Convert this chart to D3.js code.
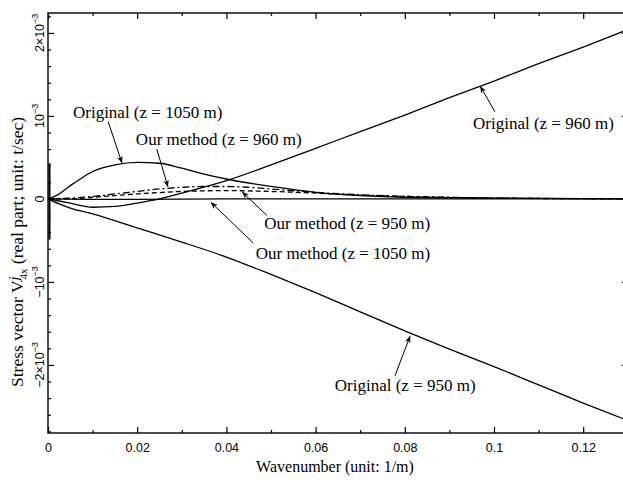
<!DOCTYPE html>
<html>
<head>
<meta charset="utf-8">
<script src="https://cdn.jsdelivr.net/npm/d3@7/dist/d3.min.js"></script>
<style>
  html, body { margin: 0; padding: 0; background: #fff; }
  svg { display: block; }
</style>
</head>
<body>
<svg id="chart" width="623" height="480"></svg>
<script>
// ---- Data (x: wavenumber in 1/m, y: stress in units of 1e-3 t/sec) ----
const xOrig960 = [0, 0.005, 0.01, 0.015, 0.02, 0.025, 0.03, 0.04, 0.05, 0.06, 0.07, 0.08, 0.09, 0.1, 0.11, 0.12, 0.13];
const yOrig960 = [0, -0.05, -0.1, -0.09, -0.05, 0.0, 0.07, 0.22, 0.41, 0.61, 0.81, 1.01, 1.22, 1.42, 1.63, 1.83, 2.04];

const xOrig950 = [0, 0.0025, 0.005, 0.01, 0.02, 0.03, 0.04, 0.05, 0.06, 0.07, 0.08, 0.09, 0.1, 0.11, 0.12, 0.13];
const yOrig950 = [0, -0.06, -0.11, -0.18, -0.35, -0.52, -0.70, -0.91, -1.13, -1.36, -1.59, -1.81, -2.02, -2.24, -2.46, -2.67];

const xOrig1050 = [0, 0.0025, 0.005, 0.0075, 0.01, 0.015, 0.02, 0.025, 0.03, 0.035, 0.04, 0.05, 0.06, 0.07, 0.08, 0.1, 0.13];
const yOrig1050 = [0, 0.06, 0.16, 0.25, 0.33, 0.41, 0.44, 0.43, 0.37, 0.30, 0.24, 0.15, 0.08, 0.04, 0.02, 0.01, 0.0];

const xOur960 = [0, 0.005, 0.01, 0.015, 0.02, 0.025, 0.03, 0.035, 0.04, 0.045, 0.05, 0.06, 0.07, 0.08, 0.09, 0.1, 0.11, 0.13];
const yOur960 = [0, 0.01, 0.03, 0.06, 0.09, 0.12, 0.14, 0.15, 0.15, 0.14, 0.12, 0.08, 0.05, 0.03, 0.02, 0.01, 0.005, 0.003];

const xOur950 = [0, 0.005, 0.01, 0.02, 0.03, 0.04, 0.05, 0.06, 0.07, 0.08, 0.09, 0.1, 0.13];
const yOur950 = [0, 0.0, 0.02, 0.06, 0.09, 0.10, 0.09, 0.07, 0.045, 0.03, 0.015, 0.01, 0.0];

const xOur1050 = [0, 0.01, 0.02, 0.04, 0.06, 0.08, 0.1, 0.13];
const yOur1050 = [0, -0.005, -0.005, 0.0, 0.0, 0.0, 0.0, 0.0];

// spike of the curves at k = 0
const xSpike = [0, 0];
const ySpike = [0.43, -0.49];

// ticks
const xMajorTicks = [0, 0.02, 0.04, 0.06, 0.08, 0.1, 0.12];
const xTickLabels = ["0", "0.02", "0.04", "0.06", "0.08", "0.1", "0.12"];
const xMinorTicks = [0.01, 0.03, 0.05, 0.07, 0.09, 0.11, 0.13];
const yMajorTicks = [-2, -1, 0, 1, 2];
const yTickLabels = [["\u22122\u00d710", "\u22123"], ["\u221210", "\u22123"], ["0", ""], ["10", "\u22123"], ["2\u00d710", "\u22123"]];
const yMinorTicks = [-2.8, -2.6, -2.4, -2.2, -1.8, -1.6, -1.4, -1.2, -0.8, -0.6, -0.4, -0.2, 0.2, 0.4, 0.6, 0.8, 1.2, 1.4, 1.6, 1.8, 2.2];

// annotations: [text, textX, textY, tailX, tailY, tipX, tipY] in data units
const annotations = [
  ["Original (z = 1050 m)", 0.0056, 0.976, 0.0135, 0.93, 0.0166, 0.43],
  ["Our method (z = 960 m)", 0.0197, 0.65, 0.0244, 0.60, 0.0269, 0.145],
  ["Original (z = 960 m)", 0.0953, 0.84, 0.1002, 1.05, 0.0969, 1.36],
  ["Our method (z = 950 m)", 0.0485, -0.36, 0.0491, -0.20, 0.0435, 0.085],
  ["Our method (z = 1050 m)", 0.0466, -0.72, 0.046, -0.53, 0.0365, -0.04],
  ["Original (z = 950 m)", 0.0643, -2.31, 0.0778, -2.13, 0.0812, -1.65]
];

(function () {
// ---- Layout ----
const svg = d3.select("#chart");
const mLeft = 48, mTop = 13, mBottom = 433, mRight = 627.8;
const x = d3.scaleLinear().domain([0, 0.13]).range([mLeft, mRight]);
const y = d3.scaleLinear().domain([-2.82, 2.24]).range([mBottom, mTop]);

const serif = "'Liberation Serif', 'Times New Roman', serif";
const sans = "'Liberation Sans', Arial, sans-serif";

// defs: arrow marker
const defs = svg.append("defs");
defs.append("marker")
  .attr("id", "arr").attr("viewBox", "0 0 10 10")
  .attr("refX", 10).attr("refY", 5)
  .attr("markerWidth", 7).attr("markerHeight", 7)
  .attr("markerUnits", "userSpaceOnUse")
  .attr("orient", "auto")
  .append("path").attr("d", "M0,1 L10,5 L0,9 L3,5 Z").attr("fill", "#000");
defs.append("clipPath").attr("id", "clip").append("rect")
  .attr("x", mLeft).attr("y", mTop).attr("width", mRight - mLeft).attr("height", mBottom - mTop);

// curves
const line = d3.line().x(d => x(d[0])).y(d => y(d[1])).curve(d3.curveMonotoneX);
const series = [
  {xs: xOrig960, ys: yOrig960, dash: null},
  {xs: xOrig950, ys: yOrig950, dash: null},
  {xs: xOrig1050, ys: yOrig1050, dash: null},
  {xs: xOur960, ys: yOur960, dash: "7,3,2,3"},
  {xs: xOur950, ys: yOur950, dash: "5,3"},
  {xs: xOur1050, ys: yOur1050, dash: null}
];
const cg = svg.append("g").attr("clip-path", "url(#clip)");
series.forEach(s => {
  cg.append("path")
    .datum(s.xs.map((v, i) => [v, s.ys[i]]))
    .attr("d", line)
    .attr("fill", "none").attr("stroke", "#000")
    .attr("stroke-width", 1.3)
    .attr("stroke-dasharray", s.dash);
});
cg.append("path")
  .datum(xSpike.map((v, i) => [v, ySpike[i]]))
  .attr("d", d3.line().x(d => x(d[0]) + 1.5).y(d => y(d[1])))
  .attr("fill", "none").attr("stroke", "#000").attr("stroke-width", 2);

// frame
svg.append("rect").attr("x", mLeft).attr("y", mTop)
  .attr("width", mRight - mLeft).attr("height", mBottom - mTop)
  .attr("fill", "none").attr("stroke", "#000").attr("stroke-width", 1.4);

// axes
function styleAxis(g) {
  g.select(".domain").remove();
  g.selectAll(".tick line").attr("stroke", "#000").attr("stroke-width", 1.2);
}
svg.append("g").attr("transform", `translate(0,${mBottom})`)
  .call(d3.axisBottom(x).tickValues(xMajorTicks).tickSize(-6).tickPadding(10)
    .tickFormat((d, i) => xTickLabels[i]))
  .call(styleAxis)
  .call(g => g.selectAll("text").attr("font-family", sans).attr("font-size", 12.5).attr("fill", "#000"));
svg.append("g").attr("transform", `translate(0,${mBottom})`)
  .call(d3.axisBottom(x).tickValues(xMinorTicks).tickSize(-3).tickFormat(""))
  .call(styleAxis);
svg.append("g").attr("transform", `translate(0,${mTop})`)
  .call(d3.axisTop(x).tickValues(xMajorTicks).tickSize(-6).tickFormat(""))
  .call(styleAxis);
svg.append("g").attr("transform", `translate(0,${mTop})`)
  .call(d3.axisTop(x).tickValues(xMinorTicks).tickSize(-3).tickFormat(""))
  .call(styleAxis);
svg.append("g").attr("transform", `translate(${mLeft},0)`)
  .call(d3.axisLeft(y).tickValues(yMajorTicks).tickSize(-6).tickFormat(""))
  .call(styleAxis);
svg.append("g").attr("transform", `translate(${mLeft},0)`)
  .call(d3.axisLeft(y).tickValues(yMinorTicks).tickSize(-3).tickFormat(""))
  .call(styleAxis);
svg.append("g").attr("transform", `translate(${mRight},0)`)
  .call(d3.axisRight(y).tickValues(yMajorTicks).tickSize(-6).tickFormat(""))
  .call(styleAxis);
svg.append("g").attr("transform", `translate(${mRight},0)`)
  .call(d3.axisRight(y).tickValues(yMinorTicks).tickSize(-3).tickFormat(""))
  .call(styleAxis);

// y tick labels (rotated)
yMajorTicks.forEach((v, i) => {
  const t = svg.append("text")
    .attr("transform", `translate(44,${y(v)}) rotate(-90)`)
    .attr("text-anchor", "middle")
    .attr("font-family", sans).attr("font-size", 12.5).attr("fill", "#000");
  t.append("tspan").text(yTickLabels[i][0]);
  if (yTickLabels[i][1]) {
    t.append("tspan").attr("dy", -6).attr("font-size", 9).text(yTickLabels[i][1]);
  }
});

// axis titles
svg.append("text")
  .attr("x", 335).attr("y", 472)
  .attr("text-anchor", "middle")
  .attr("font-family", serif).attr("font-size", 16).attr("fill", "#000")
  .text("Wavenumber (unit: 1/m)");

const yt = svg.append("text")
  .attr("transform", `translate(23,252) rotate(-90)`)
  .attr("text-anchor", "middle")
  .attr("font-family", serif).attr("font-size", 17.5).attr("fill", "#000");
yt.append("tspan").text("Stress vector V");
yt.append("tspan").attr("font-style", "italic").attr("font-size", 14).attr("dy", -4).text("j");
yt.append("tspan").attr("font-size", 11).attr("dy", 8).attr("dx", -3).text("4x");
yt.append("tspan").attr("dy", -4).text(" (real part; unit: t/sec)");

// annotations
const ag = svg.append("g");
annotations.forEach(a => {
  ag.append("line")
    .attr("x1", x(a[3])).attr("y1", y(a[4]))
    .attr("x2", x(a[5])).attr("y2", y(a[6]))
    .attr("stroke", "#000").attr("stroke-width", 1)
    .attr("marker-end", "url(#arr)");
  ag.append("text")
    .attr("x", x(a[1])).attr("y", y(a[2]))
    .attr("font-family", serif).attr("font-size", 17).attr("fill", "#000")
    .text(a[0]);
});
})();
</script>
</body>
</html>
